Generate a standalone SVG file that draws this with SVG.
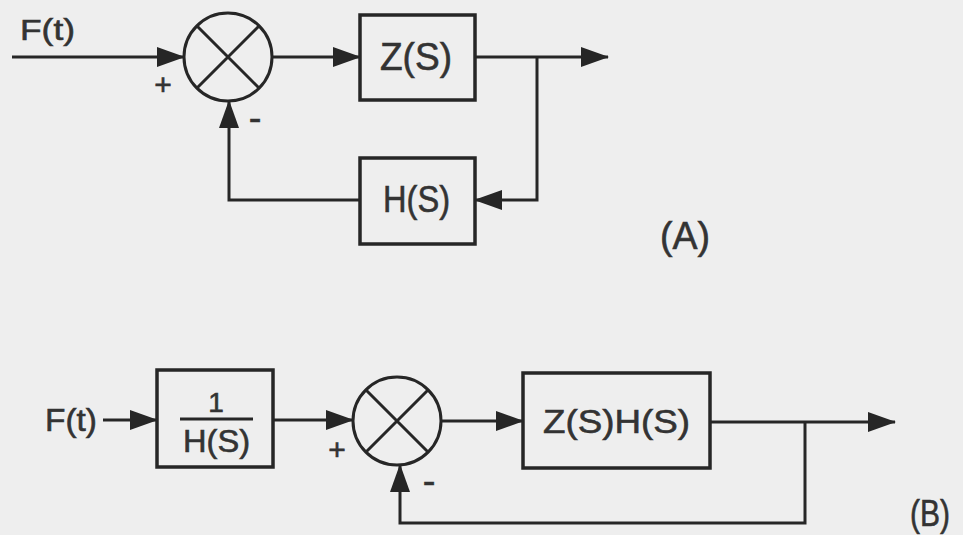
<svg xmlns="http://www.w3.org/2000/svg" width="963" height="535" viewBox="0 0 963 535">
<defs>
<style>
.bg{fill:#eeeeee}
.ln{fill:none;stroke:#262626;stroke-width:3;stroke-linejoin:miter}
.bx{fill:none;stroke:#262626;stroke-width:3.5}
.t{font-family:"Liberation Sans","DejaVu Sans",sans-serif;fill:#333333;stroke:#333333;stroke-width:0.6}
.c{marker-end:url(#ah)}
</style>
<marker id="ah" viewBox="0 0 28 20" refX="27" refY="10" markerWidth="28" markerHeight="20" markerUnits="userSpaceOnUse" orient="auto">
<path d="M0,0 L28,10 L0,20 Z" fill="#262626"/>
</marker>
</defs>
<rect class="bg" x="0" y="0" width="963" height="535"/>

<g id="connectors">
<path class="ln c" d="M12,57 L184,57"/>
<path class="ln c" d="M272,57 L360,57"/>
<path class="ln c" d="M475,57 L608,57"/>
<path class="ln c" d="M537,57 L537,200 L475,200"/>
<path class="ln c" d="M360,200 L229,200 L229,101"/>
<path class="ln c" d="M103,420 L157,420"/>
<path class="ln c" d="M273,420 L353,420"/>
<path class="ln c" d="M441,421 L523,421"/>
<path class="ln c" d="M710,422 L895,422"/>
<path class="ln c" d="M805,422 L805,523 L400,523 L400,465"/>
</g>

<g id="A-input-label">
<text class="t" x="20" y="40" font-size="30" textLength="55" lengthAdjust="spacingAndGlyphs">F(t)</text>
</g>
<g id="A-sum">
<circle class="ln" cx="228" cy="57" r="44"/>
<path class="ln" d="M197,26 L259,88 M259,26 L197,88"/>
<text class="t" x="163" y="95" font-size="30" text-anchor="middle">+</text>
<text class="t" x="255" y="131" font-size="38" text-anchor="middle">-</text>
</g>
<g id="A-Z">
<rect class="bx" x="360" y="15" width="115" height="85"/>
<text class="t" x="380" y="70" font-size="39" textLength="72" lengthAdjust="spacingAndGlyphs">Z(S)</text>
</g>
<g id="A-H">
<rect class="bx" x="360" y="158" width="115" height="86"/>
<text class="t" x="383" y="212" font-size="37" textLength="67" lengthAdjust="spacingAndGlyphs">H(S)</text>
</g>
<g id="A-label">
<text class="t" x="660" y="249" font-size="38" textLength="50" lengthAdjust="spacingAndGlyphs">(A)</text>
</g>

<g id="B-input-label">
<text class="t" x="45" y="431" font-size="32" textLength="52" lengthAdjust="spacingAndGlyphs">F(t)</text>
</g>
<g id="B-inv">
<rect class="bx" x="157" y="370" width="116" height="97"/>
<text class="t" x="216" y="412" font-size="28" text-anchor="middle">1</text>
<path class="ln" d="M180,419 L253,419"/>
<text class="t" x="183" y="452" font-size="31" textLength="67" lengthAdjust="spacingAndGlyphs">H(S)</text>
</g>
<g id="B-sum">
<circle class="ln" cx="397" cy="421" r="44"/>
<path class="ln" d="M366,390 L428,452 M428,390 L366,452"/>
<text class="t" x="337" y="460" font-size="30" text-anchor="middle">+</text>
<text class="t" x="429" y="494" font-size="38" text-anchor="middle">-</text>
</g>
<g id="B-ZH">
<rect class="bx" x="523" y="373" width="187" height="95"/>
<text class="t" x="543" y="433" font-size="34" textLength="147" lengthAdjust="spacingAndGlyphs">Z(S)H(S)</text>
</g>
<g id="B-label">
<text class="t" x="910" y="526" font-size="36" textLength="40" lengthAdjust="spacingAndGlyphs">(B)</text>
</g>
</svg>
